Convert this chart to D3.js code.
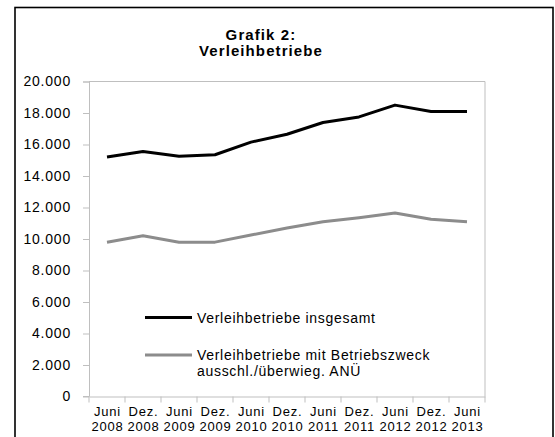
<!DOCTYPE html>
<html>
<head>
<meta charset="utf-8">
<script src="https://cdn.jsdelivr.net/npm/d3@7"></script>
<style>
  body { margin: 0; background: #fff; }
  svg { font-family: "Liberation Sans", Arial, sans-serif; }
</style>
</head>
<body>
<svg width="555" height="437"></svg>
<script>
// Halbjahreswerte Juni 2008 - Juni 2013
var months = ["Juni", "Dez.", "Juni", "Dez.", "Juni", "Dez.", "Juni", "Dez.", "Juni", "Dez.", "Juni"];
var years = ["2008", "2008", "2009", "2009", "2010", "2010", "2011", "2011", "2012", "2012", "2013"];
var insgesamt = [15200, 15550, 15250, 15350, 16150, 16650, 17400, 17750, 18500, 18100, 18100];
var anue = [9800, 10200, 9800, 9800, 10250, 10700, 11100, 11350, 11650, 11250, 11100];
var yTicks = [0, 2000, 4000, 6000, 8000, 10000, 12000, 14000, 16000, 18000, 20000];

var svg = d3.select("svg"),
    margin = { top: 81.5, right: 70, bottom: 40.5, left: 89 },
    width = +svg.attr("width") - margin.left - margin.right,
    height = +svg.attr("height") - margin.top - margin.bottom;

// aeusserer Rahmen
svg.append("rect")
    .attr("x", 15).attr("y", 7.5)
    .attr("width", 538).attr("height", 450)
    .attr("fill", "none").attr("stroke", "#000").attr("stroke-width", 1.6);

var g = svg.append("g").attr("transform", "translate(" + margin.left + "," + margin.top + ")");

var idx = d3.range(months.length);
var x = d3.scaleBand().domain(idx).range([0, width]);
var y = d3.scaleLinear().domain([0, 20000]).range([height, 0]);

var fmt = function(v) { return d3.format(",")(v).replace(/,/g, "."); };

// Plotrahmen oben/rechts
g.append("path")
    .attr("d", "M0,0H" + width + "V" + height)
    .attr("fill", "none").attr("stroke", "#bfbfbf");

var yAxis = g.append("g")
    .call(d3.axisLeft(y).tickValues(yTicks).tickSize(6).tickPadding(11).tickFormat(fmt));
yAxis.selectAll("text")
    .attr("font-size", 14).attr("letter-spacing", 0.8).attr("fill", "#000").attr("x", -18);

var xAxis = g.append("g")
    .attr("transform", "translate(0," + height + ")")
    .call(d3.axisBottom(x).tickSize(0).tickFormat(""));

xAxis.selectAll("path, line").attr("stroke", "#bfbfbf");
yAxis.selectAll("path, line").attr("stroke", "#bfbfbf");
yAxis.select(".domain").attr("d", "M-6,0.5H0.5V" + height + "H-6");

// Teilstriche zwischen den Kategorien
g.append("g").selectAll("line")
    .data(d3.range(months.length + 1))
    .enter().append("line")
    .attr("x1", function(i) { return i * x.bandwidth(); })
    .attr("x2", function(i) { return i * x.bandwidth(); })
    .attr("y1", height).attr("y2", height + 6)
    .attr("stroke", "#bfbfbf");

var lab = g.append("g").selectAll("text")
    .data(idx)
    .enter().append("text")
    .attr("text-anchor", "middle")
    .attr("font-size", 13)
    .attr("letter-spacing", 0.8)
    .attr("transform", function(i) { return "translate(" + (x(i) + x.bandwidth() / 2 + 0.5) + "," + (height + 19) + ")"; });
lab.append("tspan").attr("x", 0).attr("y", 0).text(function(i) { return months[i]; });
lab.append("tspan").attr("x", 0).attr("y", 15).text(function(i) { return years[i]; });

var line = d3.line()
    .x(function(d, i) { return x(i) + x.bandwidth() / 2; })
    .y(function(d) { return y(d); });

g.append("path").datum(anue)
    .attr("d", line).attr("fill", "none")
    .attr("stroke", "#8c8c8c").attr("stroke-width", 3).attr("stroke-linejoin", "round");

g.append("path").datum(insgesamt)
    .attr("d", line).attr("fill", "none")
    .attr("stroke", "#000").attr("stroke-width", 3).attr("stroke-linejoin", "round");

// Titel
var title = svg.append("text")
    .attr("text-anchor", "middle").attr("font-weight", "bold")
    .attr("font-size", 15).attr("letter-spacing", 1.1);
title.append("tspan").attr("x", 261).attr("y", 40).text("Grafik 2:");
title.append("tspan").attr("x", 261).attr("y", 56).text("Verleihbetriebe");

// Legende
var legend = svg.append("g").attr("font-size", 14).attr("letter-spacing", 0.7);
legend.append("line").attr("x1", 145).attr("x2", 192).attr("y1", 317.5).attr("y2", 317.5)
    .attr("stroke", "#000").attr("stroke-width", 3);
legend.append("text").attr("x", 197).attr("y", 323).text("Verleihbetriebe insgesamt");
legend.append("line").attr("x1", 145).attr("x2", 192).attr("y1", 355).attr("y2", 355)
    .attr("stroke", "#8c8c8c").attr("stroke-width", 3);
var lt = legend.append("text");
lt.append("tspan").attr("x", 197).attr("y", 360).text("Verleihbetriebe mit Betriebszweck");
lt.append("tspan").attr("x", 197).attr("y", 376).text("ausschl./überwieg. ANÜ");
</script>
</body>
</html>
